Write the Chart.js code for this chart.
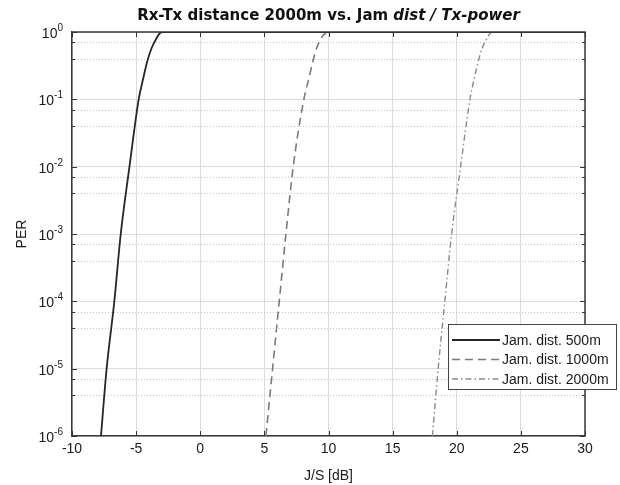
<!DOCTYPE html>
<html><head><meta charset="utf-8">
<script src="https://cdn.jsdelivr.net/npm/chart.js@4.4.0/dist/chart.umd.min.js"></script>
<style>html,body{margin:0;padding:0;background:#fff;} #wrap{width:620px;height:485px;position:relative;}</style>
</head><body><div id="wrap"><canvas id="c" width="620" height="485"></canvas></div>
<script>
// ---- data ----
const titleUpright = "Rx-Tx distance 2000m vs. Jam ";
const titleItalic = "dist / Tx-power";
const xAxisTitle = "J/S [dB]";
const yAxisTitle = "PER";
const seriesLabels = ["Jam. dist. 500m", "Jam. dist. 1000m", "Jam. dist. 2000m"];
const perLevels = [1e-6, 1e-5, 1e-4, 1e-3, 1e-2, 1e-1, 0.207, 0.367, 0.578, 0.815, 0.966, 1, 1];
const js500  = [-7.74, -7.3, -6.7, -6.2, -5.52, -4.8, -4.44, -4.13, -3.79, -3.40, -3.14, -2.88, 30];
const js1000 = [5.12, 5.64, 6.16, 6.68, 7.25, 8.08, 8.48, 8.78, 9.08, 9.44, 9.75, 9.98, 30];
const js2000 = [18.1, 18.55, 19.07, 19.6, 20.3, 21.03, 21.37, 21.68, 21.99, 22.38, 22.62, 22.85, 30];
const xTicks = [-10, -5, 0, 5, 10, 15, 20, 25, 30];
const yDecades = [-6, -5, -4, -3, -2, -1, 0];

const FONT = "'Liberation Sans', Arial, sans-serif";
const TFONT = "'DejaVu Sans', Verdana, sans-serif";
const toPts = xs => xs.map((x, i) => ({x: x, y: perLevels[i]}));
const isMajor = v => Math.abs(Math.log10(v) - Math.round(Math.log10(v))) < 1e-9;

const decor = {
  id: 'decor',
  beforeDatasetsDraw(chart) {
    const {ctx, chartArea: a, scales: {y}} = chart;
    ctx.save();
    ctx.strokeStyle = '#c4c4c4';
    ctx.lineWidth = 1;
    ctx.setLineDash([1, 2]);
    y.ticks.forEach(t => {
      if (isMajor(t.value)) return;
      const py = Math.round(y.getPixelForValue(t.value)) + 0.5;
      ctx.beginPath(); ctx.moveTo(a.left, py); ctx.lineTo(a.right, py); ctx.stroke();
    });
    ctx.restore();
  },
  afterDatasetsDraw(chart) {
    const {ctx, chartArea: a, scales: {x, y}} = chart;
    ctx.save();
    ctx.strokeStyle = '#3a3a3a';
    ctx.lineWidth = 1.5;
    ctx.beginPath();
    ctx.moveTo(a.left, a.top); ctx.lineTo(a.right, a.top); ctx.lineTo(a.right, a.bottom);
    ctx.stroke();
    ctx.lineWidth = 1;
    ctx.strokeStyle = '#333';
    ctx.beginPath();
    x.ticks.forEach(t => {
      const px = Math.round(x.getPixelForValue(t.value)) + 0.5;
      ctx.moveTo(px, a.bottom); ctx.lineTo(px, a.bottom - 5);
      ctx.moveTo(px, a.top); ctx.lineTo(px, a.top + 5);
    });
    y.ticks.forEach(t => {
      const len = isMajor(t.value) ? 5 : 3;
      const py = Math.round(y.getPixelForValue(t.value)) + 0.5;
      ctx.moveTo(a.left, py); ctx.lineTo(a.left + len, py);
      ctx.moveTo(a.right, py); ctx.lineTo(a.right - len, py);
    });
    ctx.stroke();
    ctx.restore();
  },
  afterDraw(chart) {
    const {ctx, chartArea: a, scales: {y}} = chart;
    ctx.save();
    ctx.fillStyle = '#1a1a1a';
    ctx.textBaseline = 'alphabetic';
    yDecades.forEach(d => {
      const py = y.getPixelForValue(Math.pow(10, d));
      const exp = d === 0 ? '0' : '-' + Math.abs(d);
      ctx.font = '10px ' + FONT;
      const ew = ctx.measureText(exp).width;
      const right = 63;
      ctx.textAlign = 'left';
      ctx.fillText(exp, right - ew, py - 1);
      ctx.font = '14px ' + FONT;
      ctx.textAlign = 'right';
      ctx.fillText('10', right - ew, py + 6);
    });
    ctx.font = 'bold 15px ' + TFONT;
    const w1 = ctx.measureText(titleUpright).width;
    ctx.font = 'italic bold 15px ' + TFONT;
    const w2 = ctx.measureText(titleItalic).width;
    const cx = (a.left + a.right) / 2;
    let sx = cx - (w1 + w2) / 2;
    ctx.textAlign = 'left';
    ctx.fillStyle = '#111';
    ctx.font = 'bold 15px ' + TFONT;
    ctx.fillText(titleUpright, sx, 20);
    ctx.font = 'italic bold 15px ' + TFONT;
    ctx.fillText(titleItalic, sx + w1, 20);
    const bx = 448, by = 324, bw = 168, bh = 65;
    ctx.fillStyle = '#fff';
    ctx.fillRect(bx, by, bw, bh);
    ctx.strokeStyle = '#444';
    ctx.lineWidth = 1;
    ctx.strokeRect(bx + 0.5, by + 0.5, bw, bh);
    const rows = [340, 359.5, 379];
    chart.data.datasets.forEach((ds, i) => {
      ctx.strokeStyle = ds.borderColor;
      ctx.lineWidth = ds.borderWidth;
      ctx.setLineDash(ds.borderDash || []);
      ctx.beginPath(); ctx.moveTo(452, rows[i]); ctx.lineTo(500, rows[i]); ctx.stroke();
      ctx.setLineDash([]);
      ctx.fillStyle = '#1a1a1a';
      ctx.font = '14px ' + FONT;
      ctx.textBaseline = 'middle';
      ctx.fillText(ds.label, 502, rows[i] + 1);
    });
    ctx.restore();
  }
};

new Chart(document.getElementById('c'), {
  type: 'scatter',
  data: {
    datasets: [
      {label: seriesLabels[0], data: toPts(js500), borderColor: '#262626', borderWidth: 1.8, borderDash: []},
      {label: seriesLabels[1], data: toPts(js1000), borderColor: '#7a7a7a', borderWidth: 1.6, borderDash: [8, 5]},
      {label: seriesLabels[2], data: toPts(js2000), borderColor: '#8a8a8a', borderWidth: 1.4, borderDash: [6, 3, 1.5, 3]}
    ].map(d => Object.assign(d, {showLine: true, pointRadius: 0, cubicInterpolationMode: 'monotone', fill: false}))
  },
  options: {
    responsive: false,
    animation: false,
    layout: {padding: {top: 32, right: 35, left: 0, bottom: 0}},
    plugins: {legend: {display: false}, tooltip: {enabled: false}, title: {display: false}},
    scales: {
      x: {
        type: 'linear', min: -10, max: 30,
        afterBuildTicks: s => { s.ticks = xTicks.map(v => ({value: v})); },
        afterFit: s => { s.height = 49; },
        grid: {color: '#dcdcdc', lineWidth: 1, drawTicks: false},
        border: {color: '#3a3a3a', width: 1.5},
        ticks: {font: {family: FONT, size: 14}, color: '#1a1a1a', padding: 5, maxRotation: 0},
        title: {display: true, text: xAxisTitle, font: {family: FONT, size: 14}, color: '#1a1a1a', padding: {top: 3, bottom: 0}}
      },
      y: {
        type: 'logarithmic', min: 1e-6, max: 1,
        afterBuildTicks: s => {
          const t = [];
          for (let k = -6; k < 0; k++) for (let m = 1; m <= 9; m++) t.push({value: m * Math.pow(10, k)});
          t.push({value: 1});
          s.ticks = t;
        },
        afterFit: s => { s.width = 72; },
        grid: {color: c => (c.tick && isMajor(c.tick.value)) ? '#dcdcdc' : 'rgba(0,0,0,0)', lineWidth: 1, drawTicks: false},
        border: {color: '#3a3a3a', width: 1.5},
        ticks: {callback: () => '', padding: 0},
        title: {display: true, text: yAxisTitle, font: {family: FONT, size: 14}, color: '#1a1a1a', padding: {top: 14, bottom: 0}}
      }
    }
  },
  plugins: [decor]
});
</script></body></html>
